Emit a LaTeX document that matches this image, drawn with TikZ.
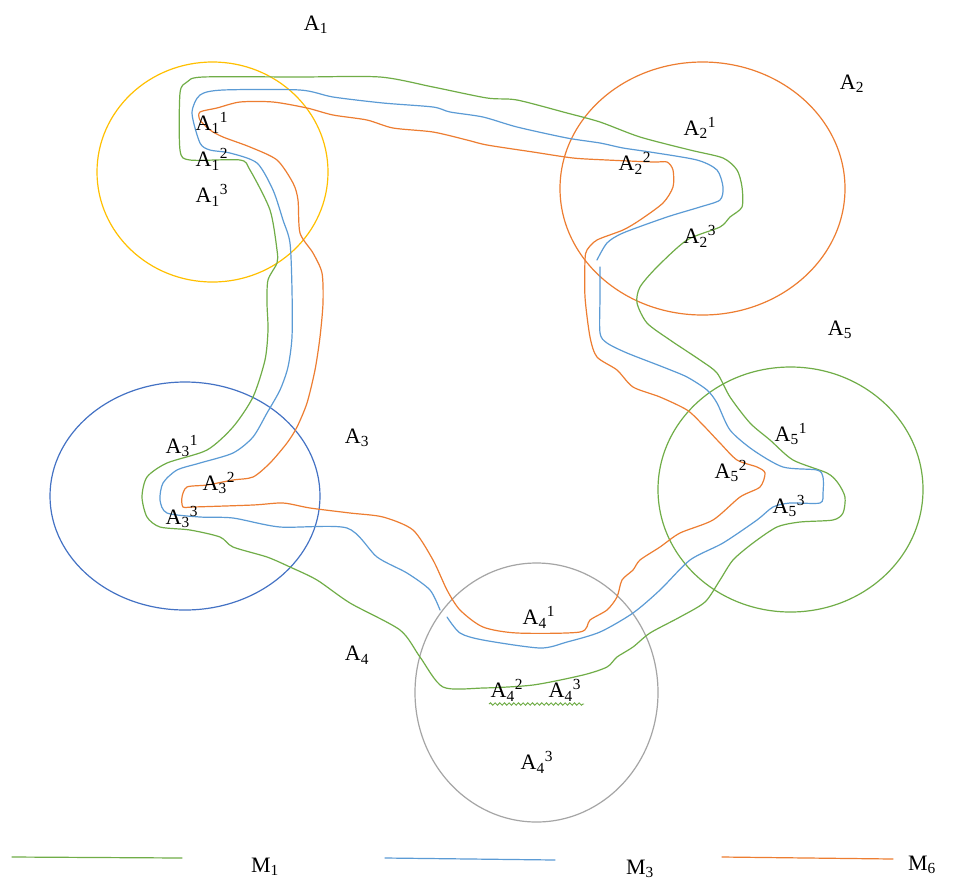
\documentclass[tikz,border=0pt]{standalone}
\usepackage{fontspec}
\setmainfont{Liberation Serif}
\usetikzlibrary{decorations.pathmorphing}
\definecolor{cgreen}{RGB}{112,173,71}
\definecolor{cblue}{RGB}{91,155,213}
\definecolor{corange}{RGB}{237,125,49}
\definecolor{cyellow}{RGB}{255,192,0}
\definecolor{cgrey}{RGB}{165,165,165}
\definecolor{cdblue}{RGB}{68,114,196}
\newcommand{\Alab}[2]{A\textsubscript{#1}\textsuperscript{#2}}
\begin{document}
\begin{tikzpicture}[x=0.75pt,y=-0.75pt,
  lbl/.style={inner sep=0pt,font=\fontsize{16.5}{19}\selectfont},
  ring/.style={line width=0.9pt},
  route/.style={line width=0.9pt,line join=round,line cap=round}]
\useasboundingbox[fill=white] (0,0) rectangle (974,883);
% circles
\draw[ring,cyellow] (212.5,172) ellipse [x radius=115.5,y radius=110];
\draw[ring,corange] (702.5,188.5) ellipse [x radius=142.5,y radius=126.5];
\draw[ring,cdblue] (185,496) ellipse [x radius=135,y radius=114];
\draw[ring,cgrey] (536.5,692.5) ellipse [x radius=121.5,y radius=129.5];
\draw[ring,cgreen] (790.5,489.5) ellipse [x radius=132.5,y radius=122.5];
% M1 green
\draw[route,cgreen] plot[smooth cycle,tension=0.45] coordinates {
(203,77) (300,77) (380,77) (433,87) (487,98) (517,100) (567,113) (600,122)
(640,137) (690,150) (723,158) (737,170) (742,187) (742,207) (730,217) (720,227)
(687,240) (657,267) (640,287) (637,303) (647,323) (670,340) (700,360) (717,373)
(730,397) (750,423) (770,440) (793,460) (827,473) (838,483) (845,497) (843,513)
(833,520) (800,522) (777,527) (753,543) (733,560) (720,580) (705,602) (680,617)
(650,633) (633,647) (617,657) (607,667) (583,675) (533,685) (483,688) (443,687)
(420,657) (400,630) (350,603) (317,580) (290,567) (267,557) (233,547) (220,537)
(190,530) (160,527) (147,517) (142,497) (147,477) (167,463) (207,450) (233,427)
(253,397) (265,360) (268,330) (267,303) (268,280) (277,263) (277,250) (270,210)
(250,170) (240,160) (190,160) (180,150) (180,93) (187,82)};
% M3 blue (two pieces, with small gaps)
\draw[route,cblue] plot[smooth,tension=0.45] coordinates {
(600,267) (600,297) (600,333) (607,343) (627,353) (663,367) (687,377) (707,390)
(717,403) (730,430) (753,450) (783,467) (817,470) (823,477) (823,493) (820,503)
(790,503) (773,507) (757,520) (723,543) (690,560) (660,590) (633,613) (600,632)
(567,642) (540,648) (483,640) (460,633) (447,617)};
\draw[route,cblue] plot[smooth,tension=0.45] coordinates {
(440,610) (430,590) (407,573) (377,557) (347,528) (280,527) (233,518) (200,517)
(167,513) (160,500) (163,483) (177,470) (200,463) (233,453) (253,437) (267,413)
(280,390) (288,367) (292,337) (292,290) (290,243) (283,220) (273,190) (257,163)
(230,153) (210,150) (200,143) (192,113) (200,95) (223,90) (300,90) (333,97)
(383,103) (433,107) (450,112) (483,117) (517,127) (567,138) (600,143) (623,148)
(650,152) (697,160) (717,170) (723,187) (720,200) (700,207) (667,217) (623,233)
(607,243) (597,260)};
% M6 orange
\draw[route,corange] plot[smooth cycle,tension=0.45] coordinates {
(200,112) (217,108) (240,102) (273,102) (307,108) (333,115) (367,120) (393,128)
(433,132) (467,140) (487,145) (533,152) (573,158) (607,160) (653,162) (667,162)
(673,170) (673,187) (663,203) (640,220) (623,230) (597,240) (587,250) (585,260)
(585,297) (590,337) (597,357) (617,370) (633,387) (660,397) (687,410) (703,425)
(720,443) (737,460) (757,467) (765,473) (760,487) (740,497) (713,520) (680,533)
(660,547) (640,560) (633,570) (622,580) (617,597) (607,610) (590,620) (580,632)
(517,633) (483,627) (460,610) (447,590) (433,560) (413,530) (383,517) (350,513)
(310,508) (283,503) (253,505) (193,507) (183,507) (182,497) (187,487) (207,485)
(233,480) (253,477) (270,463) (287,443) (297,427) (307,403) (315,370) (320,337)
(323,303) (322,273) (313,253) (300,233) (298,200) (293,183) (277,160) (250,147)
(223,137) (210,130) (200,120)};
% region labels
\node[lbl] (A1) at (316,25) {A\textsubscript{1}};
\node[lbl] (A2) at (852,84) {A\textsubscript{2}};
\node[lbl] (A5) at (840,330) {A\textsubscript{5}};
\node[lbl] (A3) at (357,438) {A\textsubscript{3}};
\node[lbl] (A4) at (357,655) {A\textsubscript{4}};
% point labels
\node[lbl] (a11) at (212,123) {\Alab{1}{1}};
\node[lbl] (a12) at (212,159) {\Alab{1}{2}};
\node[lbl] (a13) at (212,195) {\Alab{1}{3}};
\node[lbl] (a21) at (700,128) {\Alab{2}{1}};
\node[lbl] (a22) at (635,163) {\Alab{2}{2}};
\node[lbl] (a23) at (700,236) {\Alab{2}{3}};
\node[lbl] (a31) at (182,446) {\Alab{3}{1}};
\node[lbl] (a32) at (219,483) {\Alab{3}{2}};
\node[lbl] (a33) at (182,517) {\Alab{3}{3}};
\node[lbl] (a41) at (539,617) {\Alab{4}{1}};
\node[lbl] (a42) at (507,690) {\Alab{4}{2}};
\node[lbl] (a43) at (565,690) {\Alab{4}{3}};
\node[lbl] (a43b) at (537,762) {\Alab{4}{3}};
\node[lbl] (a51) at (791,434) {\Alab{5}{1}};
\node[lbl] (a52) at (731,471) {\Alab{5}{2}};
\node[lbl] (a53) at (789,506) {\Alab{5}{3}};
% wavy underline
\draw[cgreen,line width=0.7pt,decorate,decoration={snake,amplitude=0.9pt,segment length=3.5pt}]
  (489,704) -- (584,704);
% legend
\draw[route,cgreen] (12,857) -- (182,858);
\node[lbl] (M1) at (265,867) {M\textsubscript{1}};
\draw[route,cblue] (385,858) -- (555,860);
\node[lbl] (M3) at (640,869) {M\textsubscript{3}};
\draw[route,corange] (722,857) -- (893,859);
\node[lbl] (M6) at (922,865) {M\textsubscript{6}};
\end{tikzpicture}
\end{document}
